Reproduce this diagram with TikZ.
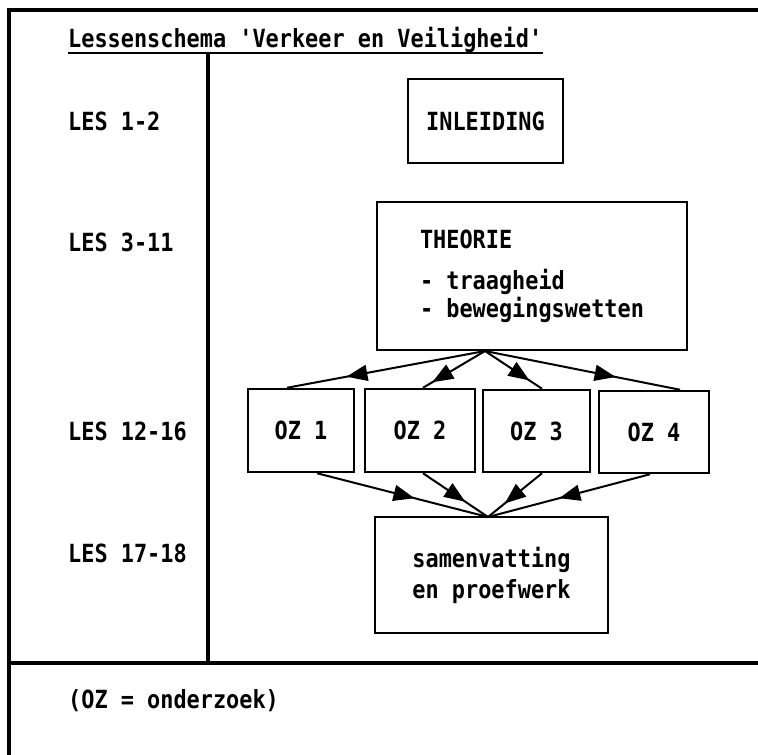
\documentclass[tikz,border=0pt]{standalone}
\usepackage{fontspec}
\setmonofont{DejaVu Sans Mono}[FakeStretch=0.875]
\usetikzlibrary{arrows.meta,decorations.markings,calc}
\begin{document}
\begin{tikzpicture}[x=1pt,y=-1pt,
  font=\ttfamily\bfseries\fontsize{25}{28}\selectfont,
  frame/.style={line width=3.4pt},
  box/.style={draw, line width=2.5pt, inner sep=0pt, align=left},
  lbl/.style={inner sep=0pt, anchor=base west},
  conn/.style={line width=2pt},
  midtip/.style={postaction={decorate}, decoration={markings,
     mark=at position #1 with {\arrow{Triangle[length=21pt,width=16pt]}}}}]
\useasboundingbox (0,0) rectangle (758,755);
% frame
\draw[frame] (9,755) -- (9,10) -- (758,10);
\draw[frame] (9,663) -- (758,663);
\draw[frame] (208,53) -- (208,663);
% title
\node[lbl] (title) at (68,47) {Lessenschema 'Verkeer en Veiligheid'};
\draw[line width=2.4pt] ([yshift=-6pt]title.base west) -- ([yshift=-6pt]title.base east);
% left labels
\node[lbl] (l1) at (68,130) {LES 1-2};
\node[lbl] (l2) at (68,251) {LES 3-11};
\node[lbl] (l3) at (68,440) {LES 12-16};
\node[lbl] (l4) at (68,562) {LES 17-18};
\node[lbl] (note) at (68,708) {(OZ = onderzoek)};
% boxes
\node[box, minimum width=155pt, minimum height=84pt] (inl) at (485.5,121) {INLEIDING};
\node[box, minimum width=310pt, minimum height=148pt] (theo) at (532,276)
  {THEORIE\\[13pt]- traagheid\\- bewegingswetten};
\node[box, minimum width=106pt, minimum height=83pt] (oz1) at (301,430.5) {OZ 1};
\node[box, minimum width=110pt, minimum height=83pt] (oz2) at (420,430.5) {OZ 2};
\node[box, minimum width=107pt, minimum height=82pt] (oz3) at (536.5,431) {OZ 3};
\node[box, minimum width=110pt, minimum height=82pt] (oz4) at (654,432) {OZ 4};
\node[box, minimum width=233pt, minimum height=116pt] (sam) at (491.5,575)
  {samenvatting\\[3pt]en proefwerk};
% connectors
\coordinate (split) at (485,351);
\coordinate (join) at (488,517);
\draw[conn, midtip=0.70] (split) -- ($(oz1.north)+(-14,0)$);
\draw[conn, midtip=0.85] (split) -- ($(oz2.north)+(3,0)$);
\draw[conn, midtip=0.78] (split) -- ($(oz3.north)+(5.5,0)$);
\draw[conn, midtip=0.67] (split) -- ($(oz4.north)+(26,0)$);
\draw[conn, midtip=0.57] ($(oz1.south)+(16,0)$) -- (join);
\draw[conn, midtip=0.65] ($(oz2.south)+(3,0)$) -- (join);
\draw[conn, midtip=0.69] ($(oz3.south)+(5.5,0)$) -- (join);
\draw[conn, midtip=0.56] ($(oz4.south)+(-4,0)$) -- (join);
\end{tikzpicture}
\end{document}
